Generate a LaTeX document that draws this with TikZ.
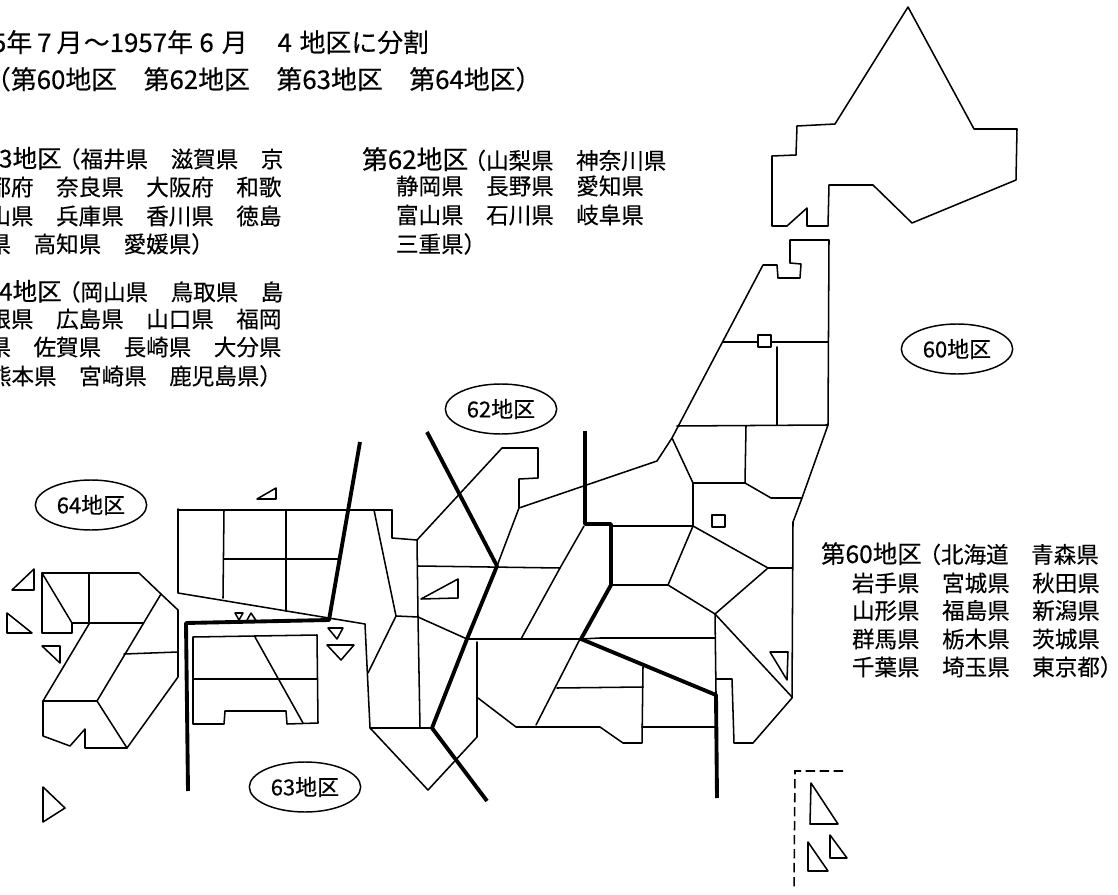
\documentclass[tikz,border=0pt]{standalone}
\usepackage{fontspec}
\setmainfont{Noto Sans CJK JP}[FakeBold=0.35]
\usetikzlibrary{shapes.geometric}
\def\gp#1{\hspace*{#1\dimexpr0.75pt\relax}}
\tikzset{
  thin line/.style={line width=1.15pt,line join=round,line cap=round},
  thick line/.style={line width=2.9pt,line join=round,line cap=butt},
  dash line/.style={line width=1.15pt,dash pattern=on 7pt off 3.5pt},
  txt/.style={anchor=base west,inner sep=0pt,outer sep=0pt,font=\fontsize{16.9pt}{20pt}\selectfont},
  head/.style={anchor=base west,inner sep=0pt,outer sep=0pt,font=\fontsize{18.4pt}{22pt}\selectfont},
  headb/.style={head,font=\fontsize{19.4pt}{22pt}\selectfont},
  zone/.style={draw,shape=ellipse,line width=1.1pt,inner sep=0pt,minimum width=83.5pt,minimum height=37.5pt,font=\fontsize{16.5pt}{20pt}\selectfont}
}
\begin{document}
\begin{tikzpicture}[x=0.75pt,y=-0.75pt]
\useasboundingbox (0,0) rectangle (1118,895);
% text
\node[headb] (t1) at (-8,52) {5年\gp{5}7\gp{5}月\gp{1.4}～\gp{0}1957年\gp{6.4}6\gp{8}月\gp{30}4\gp{7.7}地区に分割};
\node[headb] (t2) at (-15,89) {（第60地区\gp{26.5}第62地区\gp{26.5}第63地区\gp{26.5}第64地区）};
\node[head] (a1) at (-1,167.5) {3地区};
\node[txt] (a2) at (58,167.5) {（福井県　滋賀県　京};
\node[txt] (a3) at (-11.5,195.5) {都府　奈良県　大阪府　和歌};
\node[txt] (a4) at (-11.5,224.5) {山県　兵庫県　香川県　徳島};
\node[txt] (a5) at (-11.5,252.5) {県　高知県　愛媛県）};
\node[head] (b1) at (-1,300.5) {4地区};
\node[txt] (b2) at (58,300.5) {（岡山県　鳥取県　島};
\node[txt] (b3) at (-11.5,327.5) {根県　広島県　山口県　福岡};
\node[txt] (b4) at (-11.5,355.5) {県　佐賀県　長崎県　大分県};
\node[txt] (b5) at (-11,384.5) {熊本県　宮崎県　鹿児島県）};
\node[headb] (c1) at (362,169) {第62地区};
\node[txt] (c2) at (463.5,169) {（山梨県　神奈川県};
\node[txt] (c3) at (396,194.5) {静岡県　長野県　愛知県};
\node[txt] (c4) at (396,223.5) {富山県　石川県　岐阜県};
\node[txt] (c5) at (396,252.5) {三重県）};
\node[head] (d1) at (821,563) {第60地区};
\node[txt] (d2) at (918.5,563) {（北海道　青森県};
\node[txt] (d3) at (852,591.5) {岩手県　宮城県　秋田県};
\node[txt] (d4) at (852,619) {山形県　福島県　新潟県};
\node[txt] (d5) at (852,647.5) {群馬県　栃木県　茨城県};
\node[txt] (d6) at (852,675.5) {千葉県　埼玉県　東京都）};
% region labels
\node[zone] (z60) at (957,349) {60地区};
\node[zone] (z62) at (501,409) {62地区};
\node[zone] (z64) at (91,505) {64地区};
\node[zone] (z63) at (305,787) {63地区};
% Hokkaido
\draw[thin line] (908,7) -- (835,124) -- (797,126) -- (796,155) -- (772,156) -- (772,226) -- (787,226) -- (807,208) -- (807,226) -- (828,226) -- (829,185) -- (873,185) -- (912,223) -- (1016,180) -- (1017,129) -- (974,129) -- cycle;
% Tohoku
\draw[thin line] (657,461) -- (672,438) -- (763,265) -- (777,265) -- (778,278) -- (800,278) -- (801,264) -- (790,263) -- (790,240) -- (829,240) -- (828,425) -- (802,498) -- (793,522) -- (792,698) -- (753,743) -- (734,743) -- (732,679) -- (716,679);
\draw[thin line] (723,342) -- (758,342) (771,342) -- (828,342);
\draw[thin line] (758,335) rectangle (771,347);
\draw[thin line] (777,347) -- (777,425);
\draw[thin line] (677,426) -- (828,425);
\draw[thin line] (672,438) -- (693,483) -- (745,483) -- (746,426);
\draw[thin line] (745,483) -- (771,498) -- (802,498);
\draw[thin line] (693,483) -- (693,526);
\draw[thin line] (613,526) -- (693,526) -- (768,568) -- (792,568);
\draw[thin line] (693,526) -- (668,585);
\draw[thin line] (612,585) -- (668,585) -- (715,614) -- (768,568);
\draw[thin line] (715,614) -- (792,697);
\draw[thin line] (715,614) -- (716,693);
\draw[thin line] (581,639) -- (600,638) -- (715,638);
\draw[thin line] (712,515) rectangle (725,527);
\draw[thin line] (770,652) -- (788,652) -- (787,680) -- cycle;
% central Honshu
\draw[thin line] (374,510) -- (392,510) -- (392,538) -- (417,540) -- (502,448) -- (538,448) -- (538,478) -- (519,479) -- (519,508) -- (657,461);
\draw[thin line] (417,540) -- (418,617) -- (420,728);
\draw[thin line] (418,566) -- (560,568);
\draw[thin line] (519,508) -- (497,566);
\draw[thin line] (396,616) -- (418,617) -- (467,639);
\draw[thin line] (396,616) -- (368,673);
\draw[thin line] (467,639) -- (580,639);
\draw[thin line] (584,526) -- (560,568) -- (521,639);
\draw[thin line] (477,642) -- (477,737) -- (428,790) -- (371,729);
\draw[thin line] (371,728) -- (432,728);
\draw[thin line] (478,698) -- (516,727) -- (600,727) -- (623,743) -- (642,743) -- (643,667);
\draw[thin line] (536,725) -- (580,639);
\draw[thin line] (557,688) -- (643,687);
\draw[thin line] (642,727) -- (716,727);
\draw[thin line] (421,599) -- (458,579) -- (458,598) -- cycle;
% Chugoku
\draw[thin line] (178,509) -- (178,593) -- (365,624) -- (370,728) -- (371,729);
\draw[thin line] (178,510) -- (392,510);
\draw[thin line] (224,510) -- (223,598);
\draw[thin line] (286,510) -- (286,611);
\draw[thin line] (224,559) -- (338,559);
\draw[thin line] (374,510) -- (396,616);
% Shikoku
\draw[thin line] (193,637) -- (317,635) -- (318,723) -- (287,724) -- (286,711) -- (225,711) -- (224,724) -- (193,724) -- cycle;
\draw[thin line] (255,637) -- (303,723);
\draw[thin line] (194,679) -- (317,679);
% Kyushu
\draw[thin line] (42,573) -- (139,573) -- (161,594) -- (178,610) -- (178,677) -- (127,748) -- (85,748) -- (85,729) -- (70,746) -- (43,736) -- (43,701) -- (89,624);
\draw[thin line] (42,573) -- (42,633) -- (72,633) -- (72,623) -- (143,623);
\draw[thin line] (42,573) -- (72,623);
\draw[thin line] (89,573) -- (89,624);
\draw[thin line] (161,594) -- (97,701);
\draw[thin line] (43,701) -- (97,701) -- (127,748);
\draw[thin line] (124,654) -- (178,652);
% small islands
\draw[thin line] (257,499) -- (276,488) -- (276,499) -- cycle;
\draw[thin line] (12,590) -- (34,569) -- (34,590) -- cycle;
\draw[thin line] (7,613) -- (32,633) -- (7,633) -- cycle;
\draw[thin line] (42,646) -- (60,646) -- (60,663) -- cycle;
\draw[thin line] (43,787) -- (65,808) -- (43,822) -- cycle;
\draw[thin line] (235,613) -- (243,613) -- (239,620) -- cycle;
\draw[thin line] (246,622) -- (251,613) -- (257,622) -- cycle;
\draw[thin line] (328,628) -- (343,628) -- (337,639) -- cycle;
\draw[thin line] (327,645) -- (354,645) -- (341,660) -- cycle;
\draw[thin line] (811,783) -- (838,824) -- (810,824) -- cycle;
\draw[thin line] (830,835) -- (847,858) -- (830,858) -- cycle;
\draw[thin line] (808,842) -- (828,871) -- (808,871) -- cycle;
\draw[dash line] (843,771) -- (795,771) -- (794,888);
% region boundaries
\draw[thick line] (360,442) -- (329,620) -- (186,623) -- (188,791);
\draw[thick line] (427,432) -- (497,566) -- (467,639) -- (432,728) -- (487,801);
\draw[thick line] (585,431) -- (585,524) -- (611,524) -- (611,585) -- (581,639) -- (716,695) -- (717,798);
\end{tikzpicture}
\end{document}
